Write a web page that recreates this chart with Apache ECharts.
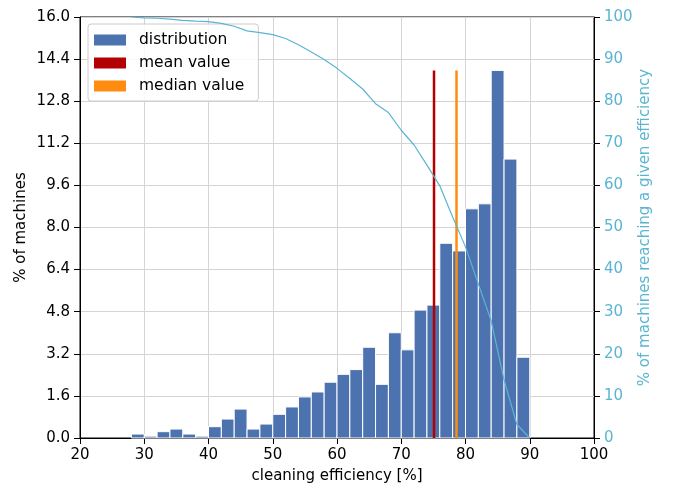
<!DOCTYPE html>
<html>
<head>
<meta charset="utf-8">
<script src="https://cdn.jsdelivr.net/npm/echarts@6/dist/echarts.min.js"></script>
<style>
html,body{margin:0;padding:0;background:#fff;}
#chart{width:673px;height:483px;}
</style>
</head>
<body>
<div id="chart"></div>
<script>
// histogram bins (2 % wide), bin start values
const binStarts = [28,30,32,34,36,38,40,42,44,46,48,50,52,54,56,58,60,62,64,66,68,70,72,74,76,78,80,82,84,86,88];
const binWidth = 2;
// % of machines per bin
const binValues = [0.15,0.07,0.24,0.34,0.15,0.07,0.43,0.72,1.10,0.34,0.53,0.90,1.18,1.56,1.75,2.12,2.42,2.60,3.45,2.04,4.00,3.35,4.86,5.05,7.40,7.11,8.71,8.90,13.97,10.60,3.07];
// % of machines reaching a given efficiency (at bin edges)
const cumX = [28,30,32,34,36,38,40,42,44,46,48,50,52,54,56,58,60,62,64,66,68,70,72,74,76,78,80,82,84,86,88,90];
const cumY = [100,99.8,99.7,99.5,99.2,99.0,98.9,98.5,97.8,96.7,96.3,95.8,94.9,93.4,91.7,89.9,87.8,85.4,82.9,79.4,77.3,73.1,69.6,64.8,59.9,52.5,45.4,36.6,27.8,13.8,3.2,0];
const meanValue = 75.1;
const medianValue = 78.6;
const markerHeight = 13.97;
const leftTicks = ['0.0','1.6','3.2','4.8','6.4','8.0','9.6','11.2','12.8','14.4','16.0'];

const histData = binStarts.map((s, i) => [s, s + binWidth, binValues[i]]);
const cumData = cumX.map((x, i) => [x, cumY[i]]);

const font = 'DejaVu Sans';
const fs = 15;
const chart = echarts.init(document.getElementById('chart'), null, {renderer: 'canvas'});
chart.setOption({
  animation: false,
  backgroundColor: '#fff',
  textStyle: {fontFamily: font},
  grid: {left: 80, right: 79, top: 17, bottom: 45, containLabel: false, outerBoundsMode: 'none',
    show: true, borderColor: '#000', borderWidth: 1, backgroundColor: 'transparent'},
  legend: {
    orient: 'vertical',
    left: 88, top: 24,
    icon: 'rect',
    itemWidth: 32, itemHeight: 11,
    itemGap: 5,
    padding: [7, 14, 6, 6],
    backgroundColor: 'rgba(255,255,255,0.85)',
    borderColor: '#cccccc', borderWidth: 1, borderRadius: 3,
    textStyle: {fontFamily: font, fontSize: 15.5, color: '#000', padding: [0, 0, 0, 8], lineHeight: 18},
    data: ['distribution', 'mean value', 'median value']
  },
  xAxis: {
    type: 'value', min: 20, max: 100, interval: 10,
    name: 'cleaning efficiency [%]', nameLocation: 'middle', nameGap: 31,
    nameTextStyle: {fontFamily: font, fontSize: fs, color: '#000'},
    axisLine: {show: true, lineStyle: {color: '#000', width: 1}},
    axisTick: {show: true, length: 6, lineStyle: {color: '#000'}},
    axisLabel: {fontFamily: font, fontSize: fs, color: '#000', margin: 10},
    splitLine: {show: true, lineStyle: {color: '#d4d4d4', width: 1}}
  },
  yAxis: [{
    type: 'value', min: 0, max: 16, interval: 1.6,
    name: '% of machines', nameLocation: 'middle', nameGap: 51, nameMoveOverlap: false,
    nameTextStyle: {fontFamily: font, fontSize: fs, color: '#000'},
    axisLine: {show: true, lineStyle: {color: '#000', width: 1}},
    axisTick: {show: true, length: 6, lineStyle: {color: '#000'}},
    axisLabel: {fontFamily: font, fontSize: fs, color: '#000', margin: 10,
      formatter: (v) => leftTicks[Math.round(v / 1.6)] || v.toFixed(1)},
    splitLine: {show: true, lineStyle: {color: '#d4d4d4', width: 1}}
  }, {
    type: 'value', min: 0, max: 100, interval: 10, position: 'right',
    name: '% of machines reaching a given efficiency', nameLocation: 'middle', nameGap: 44, nameMoveOverlap: false,
    nameRotate: 90,
    nameTextStyle: {fontFamily: font, fontSize: fs, color: '#5bb5d2'},
    axisLine: {show: true, lineStyle: {color: '#000', width: 1}},
    axisTick: {show: true, length: 6, lineStyle: {color: '#000'}},
    axisLabel: {fontFamily: font, fontSize: fs, color: '#5bb5d2', margin: 10},
    splitLine: {show: false}
  }],
  series: [{
    name: 'distribution',
    type: 'custom',
    color: '#4c72b0',
    itemStyle: {color: '#4c72b0'},
    encode: {x: [0, 1], y: 2},
    data: histData,
    z: 2,
    renderItem: function (params, api) {
      const p0 = api.coord([api.value(0), api.value(2)]);
      const p1 = api.coord([api.value(1), 0]);
      return {
        type: 'rect',
        shape: {x: p0[0], y: p0[1], width: p1[0] - p0[0], height: p1[1] - p0[1]},
        style: {fill: '#4c72b0', stroke: '#ffffff', lineWidth: 1}
      };
    }
  }, {
    name: 'mean value',
    type: 'line',
    color: '#b30000',
    data: [[meanValue, 0], [meanValue, markerHeight]],
    showSymbol: false, symbol: 'none',
    lineStyle: {color: '#b30000', width: 2.5},
    itemStyle: {color: '#b30000'},
    z: 4
  }, {
    name: 'median value',
    type: 'line',
    color: '#ff8c0e',
    data: [[medianValue, 0], [medianValue, markerHeight]],
    showSymbol: false, symbol: 'none',
    lineStyle: {color: '#ff8c0e', width: 2.5},
    itemStyle: {color: '#ff8c0e'},
    z: 4
  }, {
    name: 'cumulative',
    type: 'line',
    yAxisIndex: 1,
    data: cumData,
    showSymbol: false, symbol: 'none',
    lineStyle: {color: '#5bb5d2', width: 1.2},
    itemStyle: {color: '#5bb5d2'},
    z: 5
  }]
});
</script>
</body>
</html>
